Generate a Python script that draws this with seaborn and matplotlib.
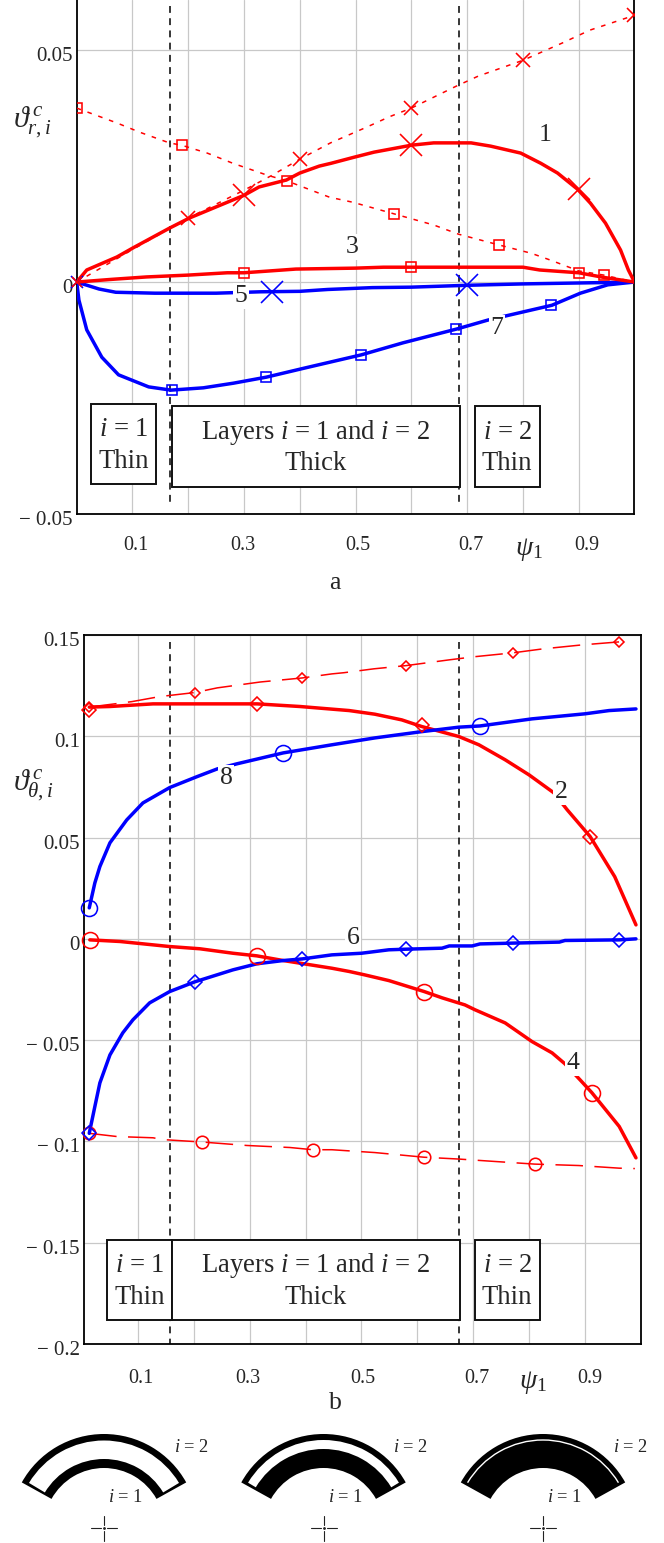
import matplotlib
matplotlib.use("Agg")
import matplotlib.pyplot as plt
import matplotlib.transforms as mtrans
from matplotlib.patches import Rectangle, Wedge
import seaborn as sns

RED = "#ff0000"
BLUE = "#0000ff"

# ---- panel a ----
c1_x = [0, .018, .072, .1, .166, .202, .3, .327, .376, .4, .435, .456, .497, .533, .6, .64, .707, .742, .796, .832, .862, .898, .921, .948, .975, .989, 1]
c1_y = [0, .0026, .0054, .0073, .0116, .0138, .0187, .0205, .022, .0235, .025, .0256, .0269, .028, .0295, .03, .03, .0293, .0278, .0256, .0235, .02, .017, .0127, .0069, .0026, 0]
c1_mx = [.3, .6, .9]
c1_my = [.0187, .0295, .02]

c1d_x = [0, .1, .2, .3, .35, .4, .455, .52, .56, .6, .68, .72, .8, .87, .92, 1]
c1d_y = [0, .007, .0138, .0198, .023, .0265, .03, .0334, .0356, .0375, .0422, .0444, .0478, .0515, .0543, .0575]
c1d_mx = [.2, .4, .6, .8, 1]
c1d_my = [.0138, .0265, .0375, .0478, .0575]

c3d_x = [0, .072, .113, .166, .188, .234, .28, .34, .377, .453, .495, .569, .64, .685, .757, .815, .85, .9, .945, 1]
c3d_y = [.0375, .0343, .0323, .03, .0295, .0278, .0256, .0231, .0218, .0183, .0172, .0147, .0123, .0103, .008, .0062, .0047, .0024, .0015, 0]
c3d_mx = [0, .188, .377, .569, .757, .945]
c3d_my = [.0375, .0295, .0218, .0147, .008, .0015]

c3_x = [0, .065, .125, .2, .27, .3, .393, .5, .55, .8, .83, .9, .945, 1]
c3_y = [0, .0006, .0011, .0015, .002, .002, .0028, .003, .0032, .0032, .0026, .002, .001, 0]
c3_mx = [.3, .6, .9]
c3_my = [.002, .0032, .002]

c5_x = [0, .04, .07, .14, .25, .33, .4, .45, .53, .6, .7, .8, .9, 1]
c5_y = [0, -.0015, -.0022, -.0024, -.0024, -.0021, -.002, -.0016, -.0012, -.0011, -.0007, -.0004, -.0002, 0]
c5_mx = [.35, .7]
c5_my = [-.0021, -.0007]

c7_x = [0, .004, .018, .045, .075, .129, .169, .227, .281, .34, .41, .51, .585, .682, .737, .852, .903, .952, 1]
c7_y = [0, -.0039, -.0103, -.0162, -.02, -.0226, -.0233, -.0228, -.0218, -.0205, -.0185, -.0157, -.0131, -.0101, -.0082, -.005, -.0024, -.0006, 0]
c7_mx = [.17, .34, .51, .68, .85]
c7_my = [-.0233, -.0205, -.0157, -.0101, -.005]

origin_x = [0]
origin_y = [0]

# ---- panel b ----
c2_x = [.013, .05, .127, .313, .39, .447, .478, .524, .572, .608, .674, .71, .757, .8, .844, .868, .909, .953, .991]
c2_y = [.1144, .1147, .116, .116, .1147, .1134, .1127, .1109, .1081, .1048, .0999, .0958, .0884, .0809, .0721, .0637, .0505, .0307, .0069]
c2_mx = [.013, .313, .609, .909]
c2_my = [.1128, .116, .1055, .0505]

c2d_x = [.013, .089, .139, .202, .242, .319, .394, .447, .469, .522, .58, .656, .703, .771, .823, .894, .961, .979]
c2d_y = [.1144, .1171, .1196, .1216, .1239, .1268, .1288, .1308, .1314, .1333, .1349, .1377, .1393, .1412, .1431, .1451, .1466, .1476]
c2d_mx = [.013, .202, .394, .58, .771, .961]
c2d_my = [.1144, .1216, .1288, .1349, .1412, .1466]

c8_x = [.013, .023, .032, .05, .08, .109, .157, .206, .242, .277, .36, .447, .524, .608, .674, .712, .805, .9, .943, .991]
c8_y = [.0153, .0276, .0357, .0474, .0587, .0671, .0747, .0801, .0839, .0864, .0918, .0958, .0992, .1023, .1045, .1051, .1086, .1111, .1127, .1135]
c8_mx = [.013, .36, .712]
c8_my = [.0153, .0918, .1051]

c4_x = [.014, .068, .157, .211, .27, .313, .36, .447, .478, .506, .549, .612, .644, .685, .703, .757, .805, .841, .864, .891, .912, .961, .991]
c4_y = [-.0005, -.0013, -.0038, -.0049, -.0071, -.0084, -.0107, -.0145, -.0161, -.0178, -.0206, -.026, -.0291, -.0326, -.035, -.0415, -.0507, -.0563, -.0617, -.0696, -.0759, -.0926, -.1081]
c4_mx = [.014, .313, .612, .912]
c4_my = [-.0005, -.0084, -.026, -.0759]

c4d_x = [.013, .063, .127, .145, .215, .295, .372, .413, .447, .524, .612, .674, .739, .81, .889, .961, .989]
c4d_y = [-.096, -.0976, -.0982, -.0991, -.1003, -.102, -.103, -.1041, -.1041, -.1055, -.1078, -.1087, -.1099, -.1112, -.1119, -.1132, -.1134]
c4d_mx = [.013, .215, .413, .612, .81]
c4d_my = [-.096, -.1003, -.1041, -.1078, -.1112]

c6_x = [.013, .023, .032, .05, .073, .091, .121, .157, .202, .27, .313, .36, .394, .447, .5, .549, .58, .644, .657, .698, .712, .771, .854, .864, .961, .991]
c6_y = [-.096, -.0828, -.0711, -.0573, -.0464, -.04, -.0316, -.026, -.0212, -.0153, -.0123, -.0107, -.0099, -.0079, -.0071, -.0054, -.0051, -.0046, -.0035, -.0035, -.0025, -.0021, -.0016, -.0008, -.0005, 0]
c6_mx = [.013, .202, .394, .58, .771, .961]
c6_my = [-.096, -.0212, -.0099, -.0051, -.0021, -.0005]

grid_x = [.1, .2, .3, .4, .5, .6, .7, .8, .9]
x_labels = ["0.1", "", "0.3", "", "0.5", "", "0.7", r"$\psi_{\mathrm{1}}$", "0.9"]
a_yticks = [-.05, 0, .05]
a_ylabels = ["\u2212 0.05", "0", "0.05"]
b_yticks = [-.2, -.15, -.1, -.05, 0, .05, .1, .15]
b_ylabels = ["\u2212 0.2", "\u2212 0.15", "\u2212 0.1", "\u2212 0.05", "0", "0.05", "0.1", "0.15"]

sns.set_style("white")
plt.rcParams["font.family"] = ["Liberation Serif", "DejaVu Serif"]
plt.rcParams["mathtext.fontset"] = "custom"
plt.rcParams["mathtext.rm"] = "Liberation Serif"
plt.rcParams["mathtext.it"] = "Liberation Serif:italic"

W, H = 664, 1543
fig = plt.figure(figsize=(W / 100, H / 100), dpi=100)


def make_axes(left, right, top, bottom):
    return fig.add_axes([left / W, 1 - bottom / H, (right - left) / W, (bottom - top) / H])


def curve(ax, x, y, color, lw=2.5, ls="-"):
    sns.lineplot(x=x, y=y, ax=ax, color=color, linewidth=lw, linestyle=ls,
                 estimator=None, sort=False, zorder=4)


def marks(ax, x, y, color, marker, size, mew=1.15, clip=False):
    sns.lineplot(x=x, y=y, ax=ax, color=color, linestyle="", marker=marker, markersize=size,
                 markerfacecolor="none", markeredgecolor=color, markeredgewidth=mew,
                 estimator=None, sort=False, zorder=5, clip_on=clip)


def style_axes(ax, xlim, ylim, yticks, ylabels, x_shift, top_spine, xpad):
    ax.set_xlim(*xlim)
    ax.set_ylim(*ylim)
    ax.set_xticks(grid_x, x_labels)
    ax.set_yticks(yticks, ylabels)
    ax.grid(True, color="#c8c8c8", linewidth=0.9)
    ax.set_axisbelow(True)
    ax.tick_params(axis="x", length=0, pad=xpad, labelsize=14.5)
    ax.tick_params(axis="y", length=0, pad=3, labelsize=15)
    for side, sp in ax.spines.items():
        sp.set_visible(side != "top" or top_spine)
        sp.set_color("black")
        sp.set_linewidth(1.3)
    for lab, dx in zip(ax.get_xticklabels(), x_shift):
        lab.set_transform(lab.get_transform() + mtrans.ScaledTranslation(dx / 100, 0, fig.dpi_scale_trans))
    ax.get_xticklabels()[7].set_fontsize(20)
    for lab in ax.get_yticklabels():
        lab.set_transform(lab.get_transform() + mtrans.ScaledTranslation(0, -4 / 100, fig.dpi_scale_trans))


dotted = (0, (3, 4.5))
longdash = (0, (18, 7.5))
vdash = (0, (4.5, 3.5))

# panel a
ax_a = make_axes(76.7, 634.5, 0, 514)
curve(ax_a, c1d_x, c1d_y, RED, 1.1, dotted)
curve(ax_a, c3d_x, c3d_y, RED, 1.1, dotted)
curve(ax_a, c7_x, c7_y, BLUE)
curve(ax_a, c5_x, c5_y, BLUE)
curve(ax_a, c3_x, c3_y, RED)
curve(ax_a, c1_x, c1_y, RED)
marks(ax_a, c1_mx, c1_my, RED, "x", 15.5)
marks(ax_a, c1d_mx, c1d_my, RED, "x", 10, clip=True)
marks(ax_a, c3d_mx, c3d_my, RED, "s", 7.5, clip=True)
marks(ax_a, c3_mx, c3_my, RED, "s", 7.5)
marks(ax_a, c5_mx, c5_my, BLUE, "x", 15.5)
marks(ax_a, c7_mx, c7_my, BLUE, "s", 7.5)
marks(ax_a, origin_x, origin_y, BLUE, "x", 9)
marks(ax_a, origin_x, origin_y, RED, "x", 7)
ax_a.plot([.167, .167], [.0595, -.0476], color="black", lw=1.1, ls=vdash, zorder=3)
ax_a.plot([.685, .685], [.0595, -.0476], color="black", lw=1.1, ls=vdash, zorder=3)
style_axes(ax_a, (0, 1), (-.05, .0608), a_yticks, a_ylabels, [3, 0, -1, 0, 2, 0, 4, 6, 8], False, 16)

# panel b
ax_b = make_axes(84, 641, 635, 1344)
curve(ax_b, c2d_x, c2d_y, RED, 1.1, longdash)
curve(ax_b, c4d_x, c4d_y, RED, 1.1, longdash)
curve(ax_b, c2_x, c2_y, RED)
curve(ax_b, c4_x, c4_y, RED)
curve(ax_b, c8_x, c8_y, BLUE)
curve(ax_b, c6_x, c6_y, BLUE)
marks(ax_b, c2_mx, c2_my, RED, "D", 7.2)
marks(ax_b, c2d_mx, c2d_my, RED, "D", 4.6)
marks(ax_b, c4_mx, c4_my, RED, "o", 11.5)
marks(ax_b, c4d_mx, c4d_my, RED, "o", 9)
marks(ax_b, c8_mx, c8_my, BLUE, "o", 11.5)
marks(ax_b, c6_mx, c6_my, BLUE, "D", 7.2)
ax_b.plot([.1574, .1574], [.1466, -.2], color="black", lw=1.1, ls=vdash, zorder=3, clip_on=False)
ax_b.plot([.6739, .6739], [.1466, -.2], color="black", lw=1.1, ls=vdash, zorder=3, clip_on=False)
style_axes(ax_b, (.0036, 1), (-.2, .15), b_yticks, b_ylabels, [3, 0, -2, 0, 1.5, 0, 4, 4, 5], True, 18)

# overlay in pixel coordinates for the boxes, curve numbers and the small sketches
ov = fig.add_axes([0, 0, 1, 1])
ov.set_xlim(0, W)
ov.set_ylim(H, 0)
ov.axis("off")
ov.patch.set_alpha(0)


def box(x0, x1, y0, y1, lines):
    ov.add_patch(Rectangle((x0, y0), x1 - x0, y1 - y0, fc="white", ec="#111111", lw=1.4, zorder=6))
    ym = (y0 + y1) / 2
    ov.text((x0 + x1) / 2, ym - 14, lines[0], ha="center", va="center", fontsize=19.2, zorder=7)
    ov.text((x0 + x1) / 2, ym + 17.5, lines[1], ha="center", va="center", fontsize=19.2, zorder=7)


box(91, 155.6, 404, 484, [r"$i$ = 1", "Thin"])
box(172, 460, 406, 487, [r"Layers $i$ = 1 and $i$ = 2", "Thick"])
box(475, 539.5, 406, 487, [r"$i$ = 2", "Thin"])
box(107, 172, 1240, 1320, [r"$i$ = 1", "Thin"])
box(172, 460, 1240, 1320, [r"Layers $i$ = 1 and $i$ = 2", "Thick"])
box(475, 539.5, 1240, 1320, [r"$i$ = 2", "Thin"])

for s, px, py in [("1", 545, 135), ("3", 352, 247), ("5", 241, 296), ("7", 497, 328),
                  ("2", 561, 792), ("8", 226, 778), ("6", 353, 938), ("4", 573, 1063)]:
    ov.text(px, py, s, ha="center", va="center", fontsize=18.5, zorder=7,
            bbox=dict(fc="white", ec="none", pad=1.5))

ov.text(13, 122, r"$\vartheta^{\,c}_{r,i}$", ha="left", va="center", fontsize=21.5)
ov.text(13, 786, r"$\vartheta^{\,c}_{\theta,i}$", ha="left", va="center", fontsize=21.5)
ov.text(335, 583, "a", ha="center", va="center", fontsize=18.5)
ov.text(335, 1403, "b", ha="center", va="center", fontsize=18.5)


def sketch(cx, r_black, white_in, white_out):
    # black ring with a white layer cut into it (angles flipped because y grows downward)
    ov.add_patch(Wedge((cx, 1528), 94, 209, 331, width=94 - r_black, fc="black", ec="none"))
    ov.add_patch(Wedge((cx, 1528), white_out, 211, 329, width=white_out - white_in, fc="white", ec="none"))
    ov.text(cx + 87, 1447, r"$i$ = 2", ha="center", va="center", fontsize=13.3)
    ov.text(cx + 22, 1497, r"$i$ = 1", ha="center", va="center", fontsize=13.3)
    ov.plot([cx - 13, cx - 3], [1528, 1528], color="#222222", lw=0.8)
    ov.plot([cx + 3, cx + 13], [1528, 1528], color="#222222", lw=0.8)
    ov.plot([cx, cx], [1516, 1525], color="#222222", lw=0.8)
    ov.plot([cx, cx], [1531, 1541], color="#222222", lw=0.8)
    ov.plot([cx], [1528], marker=".", ms=2, color="#222222")


sketch(104, 60, 69, 87.5)
sketch(323.5, 60, 79, 88)
sketch(543, 60, 87.3, 88.7)
ov.set_xlim(0, W)
ov.set_ylim(H, 0)

fig.savefig("out.png", dpi=100, facecolor="white")
